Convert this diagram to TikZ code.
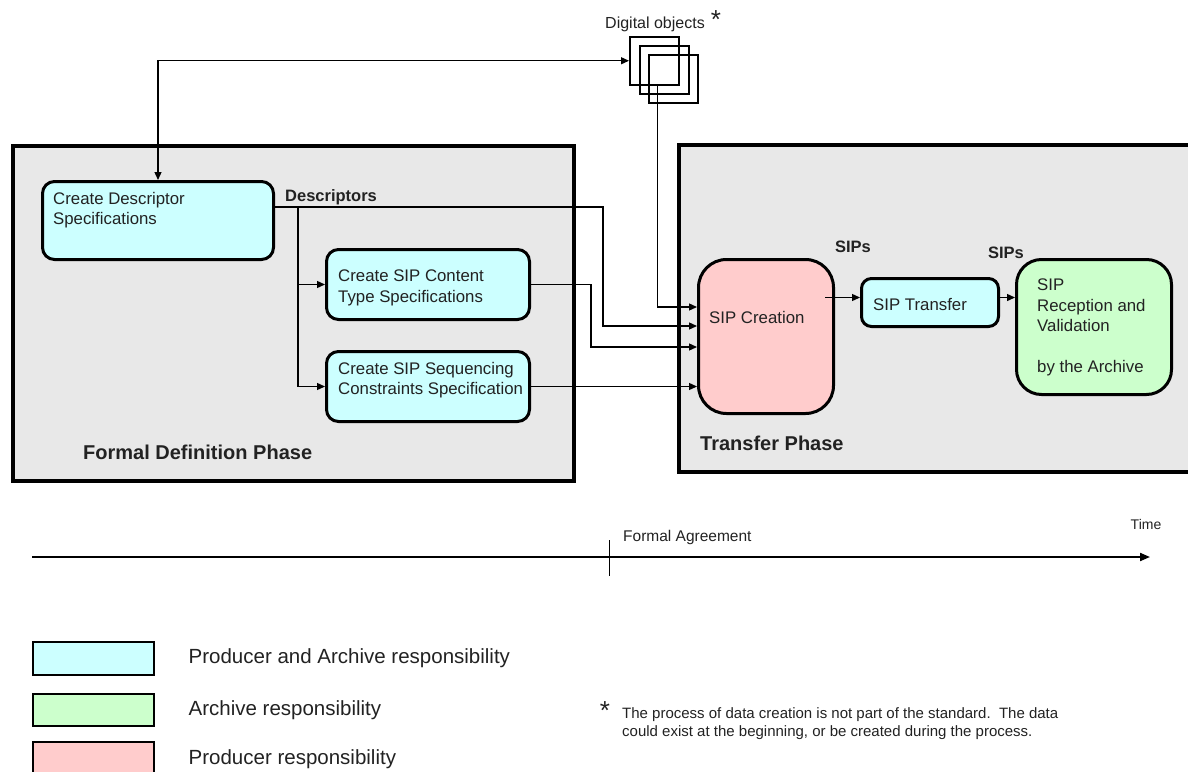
\documentclass[tikz,border=0pt]{standalone}
\usepackage{fontspec}
\setmainfont{Liberation Sans}
\usetikzlibrary{arrows.meta}

\definecolor{phasegray}{HTML}{E8E8E8}
\definecolor{prodarch}{HTML}{CCFFFF}
\definecolor{archive}{HTML}{CCFFCC}
\definecolor{producer}{HTML}{FFCCCC}
\definecolor{ink}{HTML}{222222}

\begin{document}
\begin{tikzpicture}[x=1pt,y=-1pt,text={ink}]

\tikzstyle{phase}=[draw,rectangle,fill={phasegray},line width={4pt},anchor={north west},inner sep={0pt}]
\tikzstyle{component}=[draw,rectangle,rounded corners={12pt},line width={3pt},anchor={north west},inner sep={0pt}]
\tikzstyle{caption}=[anchor={north west},inner sep={0pt},align={left},font={\fontsize{16.8pt}{20.5pt}\selectfont}]
\tikzstyle{flowname}=[inner sep={0pt},font={\fontsize{16.5pt}{20pt}\selectfont\bfseries}]
\tikzstyle{phasename}=[anchor={west},inner sep={0pt},font={\fontsize{20pt}{24pt}\selectfont\bfseries}]
\tikzstyle{docsheet}=[draw,rectangle,line width={1.5pt},anchor={north west},minimum width={49pt},minimum height={48pt},inner sep={0pt}]
\tikzstyle{swatch}=[draw,rectangle,line width={1.5pt},anchor={north west},minimum width={121pt},inner sep={0pt}]
\tikzstyle{legendtext}=[anchor={west},inner sep={0pt},font={\fontsize{20.5pt}{24pt}\selectfont}]
\tikzstyle{flow}=[line width={1.3pt},-{Triangle[length=8pt,width=7pt]}]

\useasboundingbox (0,0) rectangle (1188,771);

% phases: frames

\node [phase,minimum width={561pt},minimum height={335pt}] (FD) at (11,144) {};
\node [phase,minimum width={525pt},minimum height={327pt}] (TP) at (677,143) {};

\node [phasename] (FD-name) at (83,452) {Formal Definition Phase};
\node [phasename] (TP-name) at (700,443) {Transfer Phase};

% components: nodes

\node [component,fill={prodarch},minimum width={231pt},minimum height={78pt}] (DS) at (41,180) {};
\node [component,fill={prodarch},minimum width={203pt},minimum height={70pt}] (CT) at (325,248) {};
\node [component,fill={prodarch},minimum width={203pt},minimum height={70pt}] (SQ) at (325,350) {};
\node [component,fill={producer},rounded corners={28pt},minimum width={135pt},minimum height={154pt}] (SC) at (697,258) {};
\node [component,fill={prodarch},rounded corners={10pt},minimum width={137pt},minimum height={48pt}] (ST) at (860,277) {};
\node [component,fill={archive},rounded corners={25pt},minimum width={155pt},minimum height={135pt}] (SR) at (1015,258) {};

% components: texts

\node [caption] (DS-text) at ([shift={(12pt,-12pt)}] DS.north west) {Create Descriptor\\Specifications};
\node [caption] (CT-text) at ([shift={(13pt,-22pt)}] CT.north west) {Create SIP Content\\Type Specifications};
\node [caption] (SQ-text) at ([shift={(13pt,-12pt)}] SQ.north west) {Create SIP Sequencing\\Constraints Specification};
\node [caption,anchor={west}] (SC-text) at ([shift={(12pt,-59pt)}] SC.north west) {SIP Creation};
\node [caption,anchor={west}] (ST-text) at ([shift={(13pt,-2pt)}] ST.west) {SIP Transfer};
\node [caption] (SR-text) at ([shift={(22pt,-21pt)}] SR.north west) {SIP\\Reception and\\Validation\\[20.5pt]by the Archive};

% digital objects

\node [docsheet] (DO1) at (629,36) {};
\node [docsheet] (DO2) at (639,45) {};
\node [docsheet] (DO3) at (648,54) {};
\node [inner sep={0pt},font={\fontsize{16pt}{18pt}\selectfont}] (DO-name) at (655,24) {Digital objects};
\node [inner sep={0pt},font={\fontsize{26pt}{26pt}\selectfont}] (DO-star) at (716,20) {*};

% connections: flows

\coordinate (SC-in1) at ([yshift=-49pt] SC.north west);
\coordinate (SC-in2) at ([yshift=-68pt] SC.north west);
\coordinate (SC-in3) at ([yshift=-89pt] SC.north west);
\coordinate (DS-out) at ([yshift=-27pt] DS.north east);
\coordinate (DS-fork) at ([xshift=23pt] DS-out);
\coordinate (ST-in) at ([yshift=5pt] ST.west);
\coordinate (ST-out) at ([yshift=5pt] ST.east);
\path (SC.east |- ST-in) ++(-10pt,0pt) coordinate (SC-out);

\draw [flow,{Triangle[length=8pt,width=7pt]}-{Triangle[length=8pt,width=7pt]}] (DO1.west) -| (DS.north);
\draw [flow] ([xshift=3pt] DO1.south) |- (SC-in1);
\draw [flow] (DS-out) -- ++(328pt,0pt) |- (SC-in2);
\draw [flow] (DS-fork) |- (CT.west);
\draw [flow] (DS-fork) |- (SQ.west);
\draw [flow] (CT.east) -- ++(60pt,0pt) |- (SC-in3);
\draw [flow] (SQ.east) -- (SQ.east -| SC.west);
\draw [flow] (SC-out) -- (ST-in);
\draw [flow] (ST-out) -- (ST-out -| SR.west);

\node [flowname,anchor={west}] (DESC) at (285,197) {Descriptors};
\node [flowname] (SIPS1) at (853,247) {SIPs};
\node [flowname] (SIPS2) at (1006,253) {SIPs};

% time line

\coordinate (T0) at (32,557);
\coordinate (T1) at (1150,557);
\coordinate (FA) at (609,557);
\draw [line width={2pt},-{Triangle[length=10pt,width=8pt]}] (T0) -- (T1);
\draw [line width={1pt}] ([yshift=17pt] FA) -- ([yshift=-19pt] FA);
\node [anchor={west},inner sep={0pt},font={\fontsize{15.5pt}{18pt}\selectfont}] (FA-name) at (623,537) {Formal Agreement};
\node [inner sep={0pt},font={\fontsize{14pt}{17pt}\selectfont}] (T-name) at (1146,524) {Time};

% legend

\node [swatch,fill={prodarch},minimum height={33pt}] (L1) at (32,641) {};
\node [swatch,fill={archive},minimum height={32pt}] (L2) at (32,693) {};
\node [swatch,fill={producer},minimum height={34pt}] (L3) at (32,741) {};
\node [legendtext] (L1-name) at ([xshift=34pt] L1.east) {Producer and Archive responsibility};
\node [legendtext] (L2-name) at ([xshift=34pt] L2.east) {Archive responsibility};
\node [legendtext] (L3-name) at ([xshift=34pt] L3.east) {Producer responsibility};

% footnote

\node [inner sep={0pt},font={\fontsize{26pt}{26pt}\selectfont}] (FN-star) at (605,711) {*};
\node [anchor={north west},inner sep={0pt},align={left},font={\fontsize{15pt}{18pt}\selectfont}] (FN) at (622,707) {The process of data creation is not part of the standard.\ \ The data\\could exist at the beginning, or be created during the process.};

\end{tikzpicture}
\end{document}
